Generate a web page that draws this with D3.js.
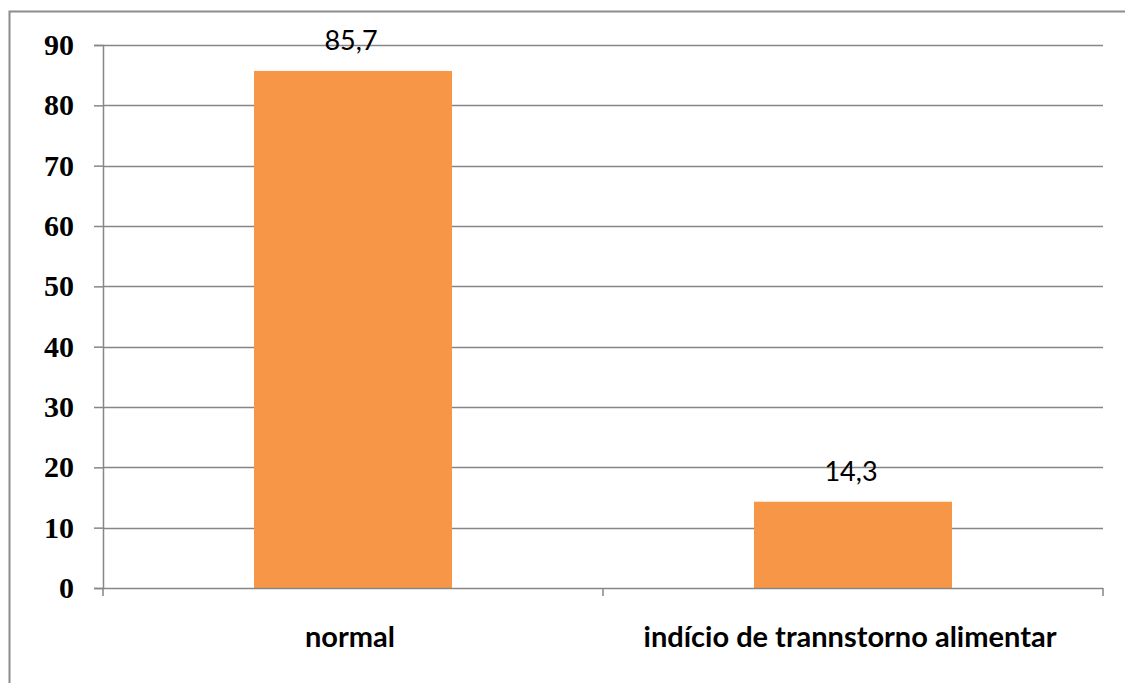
<!DOCTYPE html>
<html>
<head>
<meta charset="utf-8">
<script src="https://cdn.jsdelivr.net/npm/d3@7"></script>
<style>
  html, body { margin: 0; padding: 0; background: #fff; }
  svg { display: block; }
</style>
</head>
<body>
<svg id="chart" width="1125" height="683"></svg>
<script>
// Chart data
const categories = ["normal", "indício de trannstorno alimentar"];
const values = [85.7, 14.3];
const valueLabels = ["85,7", "14,3"];
const yTicks = [0, 10, 20, 30, 40, 50, 60, 70, 80, 90];

const svg = d3.select("#chart");
const W = 1125, H = 683;

// Outer frame of the chart area
svg.append("rect")
  .attr("x", 9.5).attr("y", 11.5)
  .attr("width", W + 20).attr("height", H + 20)
  .attr("fill", "#fff")
  .attr("stroke", "#8c8c8c")
  .attr("stroke-width", 2);

const plot = { left: 103, right: 1103, top: 45, bottom: 588 };

const x = d3.scaleBand()
  .domain(categories)
  .range([plot.left, plot.right])
  .paddingInner(0.604)
  .paddingOuter(0.302);

const y = d3.scaleLinear()
  .domain([0, 90])
  .range([plot.bottom, plot.top]);

// Horizontal gridlines
svg.append("g")
  .selectAll("line")
  .data(yTicks.filter(d => d > 0))
  .join("line")
  .attr("x1", plot.left).attr("x2", plot.right)
  .attr("y1", d => Math.round(y(d)) + 0.5)
  .attr("y2", d => Math.round(y(d)) + 0.5)
  .attr("stroke", "#868686")
  .attr("stroke-width", 1.5);

// Bars
svg.append("g")
  .selectAll("rect")
  .data(values)
  .join("rect")
  .attr("x", (d, i) => x(categories[i]))
  .attr("y", d => y(d))
  .attr("width", x.bandwidth())
  .attr("height", d => y(0) - y(d))
  .attr("fill", "#f79646");

// Y axis
const yAxis = svg.append("g")
  .attr("transform", `translate(${plot.left},0)`)
  .call(d3.axisLeft(y).tickValues(yTicks).tickSize(9).tickPadding(20).tickFormat(d3.format("d")));
yAxis.select(".domain").attr("stroke", "#868686").attr("stroke-width", 1.5);
yAxis.selectAll(".tick line").attr("stroke", "#868686").attr("stroke-width", 1.5);
yAxis.selectAll(".tick text")
  .attr("fill", "#000")
  .style("font-family", "'Liberation Serif', serif")
  .style("font-weight", "bold")
  .style("font-size", "30px");

// X axis with category separators
const xAxisG = svg.append("g")
  .attr("transform", `translate(0,${plot.bottom})`);
xAxisG.append("line")
  .attr("x1", plot.left).attr("x2", plot.right)
  .attr("y1", 0.5).attr("y2", 0.5)
  .attr("stroke", "#868686").attr("stroke-width", 1.5);
const seps = [plot.left].concat(categories.map(c => x(c) + x.bandwidth() / 2 + x.step() / 2));
xAxisG.selectAll("line.sep")
  .data(seps)
  .join("line")
  .attr("class", "sep")
  .attr("x1", d => d).attr("x2", d => d)
  .attr("y1", 0).attr("y2", 8)
  .attr("stroke", "#868686").attr("stroke-width", 1.5);

// Category labels
svg.append("g")
  .selectAll("text")
  .data(categories)
  .join("text")
  .attr("x", d => x(d) + x.bandwidth() / 2 - 3)
  .attr("y", 647)
  .attr("text-anchor", "middle")
  .attr("fill", "#000")
  .style("font-family", "Lato, sans-serif")
  .style("font-weight", "bold")
  .style("font-size", "29px")
  .text(d => d);

// Value labels above bars
svg.append("g")
  .selectAll("text")
  .data(values)
  .join("text")
  .attr("x", (d, i) => x(categories[i]) + x.bandwidth() / 2 - 2)
  .attr("y", d => y(d) - 21)
  .attr("text-anchor", "middle")
  .attr("fill", "#000")
  .style("font-family", "Lato, sans-serif")
  .style("font-size", "27px")
  .text((d, i) => valueLabels[i]);
</script>
</body>
</html>
